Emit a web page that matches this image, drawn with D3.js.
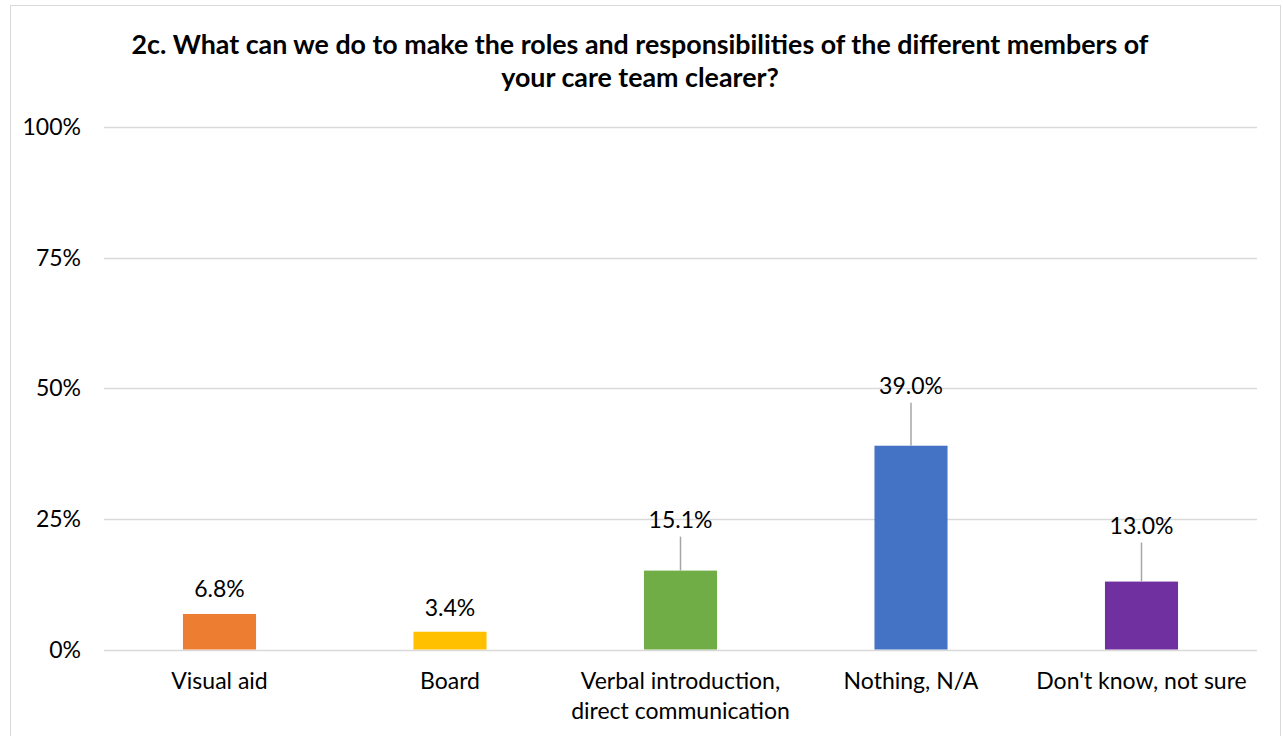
<!DOCTYPE html>
<html><head><meta charset="utf-8">
<script src="https://cdn.jsdelivr.net/npm/d3@7"></script>
<style>body{margin:0;background:#fff;} svg{display:block;}</style>
</head><body>
<svg id="c" width="1283" height="736"></svg>
<script>
const categories = ["Visual aid", "Board", "Verbal introduction, direct communication", "Nothing, N/A", "Don't know, not sure"];
const categoryLines = [["Visual aid"], ["Board"], ["Verbal introduction,", "direct communication"], ["Nothing, N/A"], ["Don't know, not sure"]];
const values = [6.8, 3.4, 15.1, 39.0, 13.0];
const colors = ["#ED7D31", "#FFC000", "#70AD47", "#4472C4", "#7030A0"];
const labelLift = [25, 24, 51, 60, 56];
const hasLeader = [false, false, true, true, true];
const yTicks = [0, 25, 50, 75, 100];
const titleLines = ["2c. What can we do to make the roles and responsibilities of the different members of", "your care team clearer?"];

const font = "Lato, sans-serif";
const svg = d3.select("#c");
svg.append("rect").attr("x", 10.5).attr("y", 5.5).attr("width", 1270).attr("height", 740)
  .attr("fill", "none").attr("stroke", "#d9d9d9").attr("stroke-width", 1);

const x = d3.scaleBand().domain(categories).range([104.25, 1256.75]).paddingInner(0.683).paddingOuter(0.3415);
const y = d3.scaleLinear().domain([0, 100]).range([649.5, 127]);

svg.append("g").selectAll("line").data(yTicks).join("line")
  .attr("x1", 104).attr("x2", 1257)
  .attr("y1", d => Math.round(y(d)) + 0.5).attr("y2", d => Math.round(y(d)) + 0.5)
  .attr("stroke", "#d9d9d9").attr("stroke-width", 1.5);

svg.append("g").selectAll("text").data(yTicks).join("text")
  .attr("x", 81).attr("y", d => y(d)).attr("dy", "0.35em").attr("text-anchor", "end")
  .attr("font-family", font).attr("font-size", 23).attr("fill", "#000")
  .text(d => d + "%");

svg.append("g").selectAll("rect").data(values).join("rect")
  .attr("x", (d, i) => x(categories[i])).attr("width", x.bandwidth())
  .attr("y", d => y(d)).attr("height", d => y(0) - y(d))
  .attr("fill", (d, i) => colors[i]);

const leaders = values.map((v, i) => ({v, i})).filter(o => hasLeader[o.i]);
svg.append("g").selectAll("line").data(leaders).join("line")
  .attr("x1", o => x(categories[o.i]) + x.bandwidth() / 2)
  .attr("x2", o => x(categories[o.i]) + x.bandwidth() / 2)
  .attr("y1", o => y(o.v))
  .attr("y2", o => y(o.v) - labelLift[o.i] + 17)
  .attr("stroke", "#a6a6a6").attr("stroke-width", 1.5);

svg.append("g").selectAll("text").data(values).join("text")
  .attr("x", (d, i) => x(categories[i]) + x.bandwidth() / 2)
  .attr("y", (d, i) => y(d) - labelLift[i]).attr("dy", "0.35em").attr("text-anchor", "middle")
  .attr("font-family", font).attr("font-size", 23).attr("fill", "#000")
  .text(d => d.toFixed(1) + "%");

const cat = svg.append("g").selectAll("text").data(categories).join("text")
  .attr("text-anchor", "middle").attr("font-family", font).attr("font-size", 23).attr("fill", "#000");
cat.each(function(d, i) {
  const t = d3.select(this);
  categoryLines[i].forEach((ln, j) => {
    t.append("tspan").attr("x", x(d) + x.bandwidth() / 2).attr("y", 681 + j * 30).attr("dy", "0.35em").text(ln);
  });
});

svg.append("g").selectAll("text").data(titleLines).join("text")
  .attr("x", 640).attr("y", (d, i) => 45 + i * 33).attr("dy", "0.35em").attr("text-anchor", "middle")
  .attr("font-family", font).attr("font-size", 26.8).attr("font-weight", "bold").attr("fill", "#000")
  .text(d => d);
</script>
</body></html>
